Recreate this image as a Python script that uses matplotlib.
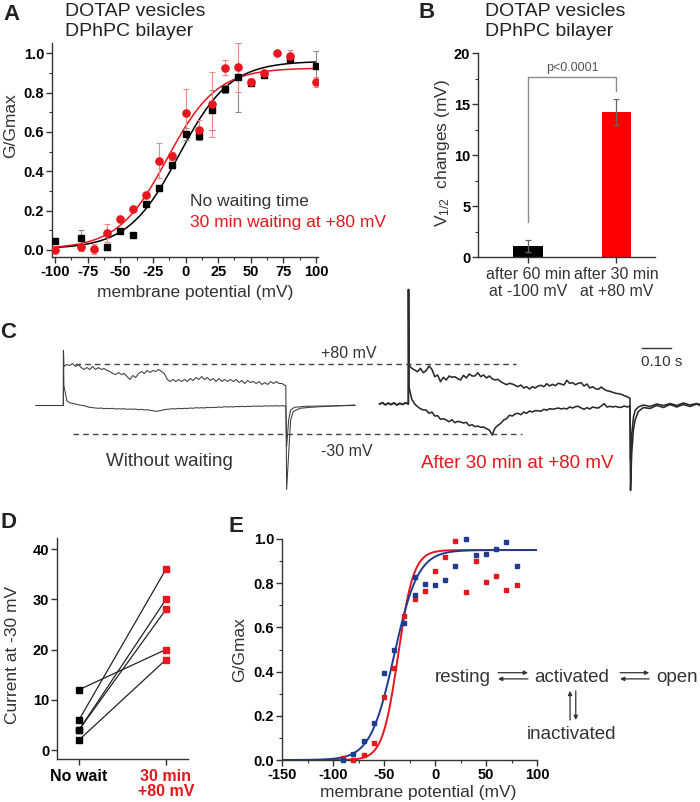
import numpy as np
import matplotlib
matplotlib.use('Agg')
import matplotlib.pyplot as plt
from matplotlib.ticker import MultipleLocator

plt.rcParams['font.family'] = ['Liberation Sans', 'DejaVu Sans']
plt.rcParams['mathtext.default'] = 'regular'

W, H = 700, 802
RED = '#e8161d'
BLUE = '#1f3c8f'
DARK = '#333333'

# ---- A: G/Gmax vs potential
volt_black = [-100, -80, -60, -50, -40, -30, -20, -10, 0, 10, 20, 30, 40, 50, 60, 80, 100]
g_black = [0.047, 0.063, 0.015, 0.098, 0.075, 0.232, 0.317, 0.432, 0.588, 0.581,
           0.712, 0.819, 0.878, 0.851, 0.888, 0.973, 0.937]
err_black = [0, 0.04, 0, 0, 0, 0.01, 0.015, 0.015, 0.03, 0.02, 0.1, 0.02, 0.175,
             0.02, 0.01, 0.015, 0.075]
volt_red = [-100, -80, -70, -60, -50, -40, -30, -20, -10, 0, 10, 20, 30, 40, 50, 60, 70, 80, 100]
g_red = [0.002, 0.014, 0.005, 0.085, 0.159, 0.21, 0.278, 0.454, 0.478, 0.698, 0.612,
         0.741, 0.927, 0.929, 0.856, 0.902, 1.003, 0.986, 0.854]
err_red = [0.01, 0.02, 0.025, 0.045, 0.01, 0.01, 0.01, 0.088, 0.02, 0.12, 0.05, 0.165,
           0.04, 0.125, 0.02, 0.01, 0.01, 0.03, 0.025]
# Boltzmann fits: (bottom, top, V1/2, slope)
fit_black = (0.005, 0.96, -5.0, 19.5)
fit_red = (0.005, 0.925, -14.0, 19.0)

# ---- B: V1/2 shift
b_labels = ['after 60 min\nat -100 mV', 'after 30 min\nat +80 mV']
b_values = [1.05, 14.2]
b_errors = [0.6, 1.3]
p_text = 'p<0.0001'

# ---- C: current traces (arbitrary units), step samples every 10 ms
step_t = np.arange(0, 780, 10)
left_upper = [39, 41, 40, 42, 39, 41, 38, 36, 38, 36, 39, 36, 38, 36, 37, 35, 34, 32, 31, 33,
              31, 32, 29, 26, 30, 28, 32, 34, 32, 35, 33, 35, 34, 36, 34, 32, 26, 24, 26, 24,
              26, 24, 26, 24, 27, 25, 28, 26, 29, 26, 28, 25, 27, 24, 27, 24, 26, 24, 26, 24,
              26, 23, 25, 22, 25, 23, 24, 22, 24, 21, 23, 21, 24, 22, 24, 22, 22, 20]
left_lower = [20, 4.8, 2.8, 2.2, 1.5, 0.8, 0.2, -0.2, -1.2, -1.8, -2.2, -2.5, -2.8, -2.5, -3.2,
              -2.8, -3.2, -2.8, -3.5, -3.2, -3.5, -3.2, -3.8, -3.5, -3.8, -3.5, -4.2, -3.8, -4.5,
              -4.2, -4.8, -5.2, -5.8, -5.5, -4.8, -4.2, -3.8, -3.5, -3.2, -3.5, -2.8, -3.2, -2.8,
              -3.0, -2.5, -2.8, -2.2, -2.5, -2.2, -2.5, -1.8, -2.2, -1.8, -2.0, -1.5, -1.8, -1.2,
              -1.5, -1.2, -1.5, -1.0, -1.2, -0.8, -1.2, -0.8, -1.0, -0.5, -0.8, -0.5, -0.8, -0.3,
              -0.6, -0.3, -0.5, -0.2, -0.5, -0.2, -0.5]
right_upper = [40.5, 37.2, 35.5, 33.8, 37.2, 32.8, 34.8, 39.5, 36.2, 28.8, 30.5, 23.8, 28.2, 25.5,
               29.5, 28.2, 28.8, 26.8, 25.5, 30.2, 27.5, 31.5, 29.5, 29.5, 32.8, 28.8, 30.5, 27.5,
               29.5, 26.8, 25.5, 26.2, 23.8, 22.2, 20.8, 22.2, 21.5, 20.2, 18.8, 20.5, 17.5, 18.8,
               16.5, 18.8, 17.5, 19.5, 20.2, 18.8, 21.8, 19.5, 21.2, 19.8, 22.2, 21.5, 20.5, 25.2,
               22.2, 22.8, 20.8, 22.2, 22.8, 19.5, 21.5, 17.5, 18.8, 16.8, 16.2, 18.5, 16.2, 14.8,
               14.2, 13.2, 12.2, 11.8, 11.2, 9.8, 8.8, 7.2]
right_lower = [18.8, 6.2, 1.5, -1.2, -3.2, -4.5, -4.5, -7.8, -6.5, -10.5, -10.2, -13.8, -13.2,
               -14.5, -16.2, -14.2, -17.2, -15.8, -16.5, -17.5, -16.8, -20.2, -19.2, -21.2, -20.5,
               -21.8, -21.5, -23.2, -24.5, -29.5, -22.5, -19.8, -17.8, -14.5, -13.2, -9.8, -10.5,
               -8.5, -7.8, -9.2, -6.5, -7.8, -5.5, -6.5, -5.2, -5.2, -5.8, -3.8, -4.8, -3.2, -3.8,
               -3.2, -2.5, -3.5, -2.8, -3.5, -1.5, -2.5, -1.2, -0.8, -2.5, -3.8, -2.2, -3.5, -1.5,
               -2.2, -2.5, -0.5, 1.8, -1.5, -0.8, -1.5, -0.8, -1.8, -1.8, -0.5, -1.5, -0.5]
left_base_t = [-95, -50, 0]
left_base = [0, 0, 0]
right_base_t = [-100, -90, -80, -70, -60, -50, -40, -30, -20, -10, 0]
right_base = [1.5, 2.8, 0.6, 2.4, 0.9, 2.6, 0.5, 2.2, 1.0, 2.7, 1.5]
left_spike, right_spike = 55, 116
left_tail_up_t = [775, 778, 785, 792, 801, 825, 860, 941, 1016]
left_tail_up = [20, -84, -48, -14.5, -6, -2.8, -1.8, -0.5, 0.5]
left_tail_lo_t = [775, 778, 785, 792, 805, 845, 1016]
left_tail_lo = [-0.5, -41, -14.5, -4.5, -1.8, -0.8, 0]
right_tail_up_t = [772, 774, 778, 784, 790, 801, 819, 842, 865, 889, 912, 935, 958, 981, 1004, 1016]
right_tail_up = [7, -85, -48, -24.5, -14.5, -6, -2, -3, 0, -2, 1, -1.5, 1, -1, 1.5, 0]
right_tail_lo_t = [772, 774, 778, 784, 790, 801, 819, 842, 865, 889, 912, 935, 958, 981, 1004, 1016]
right_tail_lo = [-0.5, -55, -30, -12, -5, -1.5, 0.5, -1, 1.5, 0, 2, 0, 2.5, 0.5, 2, 1]
level_80, level_30 = 41.5, -28.5

# ---- D: paired currents
d_before = [12, 6, 4, 4, 2]
d_after = [20, 36, 30, 28, 18]

# ---- E: G/Gmax
volt_e_blue = [-90, -80, -70, -60, -50, -40, -30, -20, -20, -10, 0, 10, 20, 30, 40, 50, 60, 70, 80]
g_e_blue = [0.0, 0.027, 0.088, 0.167, 0.394, 0.5, 0.62, 0.828, 0.745, 0.798, 0.79, 0.816,
            0.878, 1.0, 0.929, 0.932, 0.953, 0.988, 0.879]
volt_e_red = [-90, -80, -70, -60, -50, -40, -30, -20, -10, 0, 10, 20, 30, 40, 50, 60, 70, 80]
g_e_red = [0.01, 0.0, 0.023, 0.075, 0.287, 0.415, 0.652, 0.727, 0.763, 0.855, 0.92, 0.992,
           0.76, 0.9, 0.805, 0.834, 0.768, 0.792]
fit_e_blue = (0.0, 0.95, -40.0, 11.7)
fit_e_red = (0.0, 0.95, -36.2, 7.6)


def boltzmann(v, p):
    a1, a2, v0, k = p
    return a2 + (a1 - a2) / (1 + np.exp((v - v0) / k))


fig = plt.figure(figsize=(W / 100, H / 100), dpi=100)


def px_axes(left, top, right, bottom):
    return fig.add_axes([left / W, 1 - bottom / H, (right - left) / W, (bottom - top) / H])


def px_text(x, y, s, **kw):
    kw.setdefault('ha', 'center')
    kw.setdefault('va', 'center')
    fig.text(x / W, 1 - y / H, s, **kw)


def style(ax):
    for s in ['top', 'right']:
        ax.spines[s].set_visible(False)
    for s in ['left', 'bottom']:
        ax.spines[s].set_linewidth(1.0)
        ax.spines[s].set_color(DARK)
    ax.tick_params(which='major', direction='out', length=4, width=1, color=DARK, pad=1.5)
    ax.tick_params(which='minor', direction='out', length=2.5, width=0.8, color=DARK)


def bold_ticks(ax, xt, xl, yt, yl, size=10.5):
    ax.set_xticks(xt, labels=xl, fontweight='bold', fontsize=size)
    ax.set_yticks(yt, labels=yl, fontweight='bold', fontsize=size)


# ================= Panel A =================
axA = px_axes(52, 43, 318, 257)
style(axA)
vv = np.linspace(-100, 100, 300)
axA.plot(vv, boltzmann(vv, fit_black), color='black', lw=1.1)
axA.plot(vv, boltzmann(vv, fit_red), color=RED, lw=1.1)
axA.errorbar(volt_black, g_black, yerr=err_black, fmt='none', ecolor='#8a8a8a',
             elinewidth=0.8, capsize=2, capthick=0.8)
axA.errorbar(volt_red, g_red, yerr=err_red, fmt='none', ecolor='#f08a8a',
             elinewidth=0.8, capsize=2, capthick=0.8)
axA.plot(volt_black, g_black, 's', color='black', ms=4.2, zorder=4)
axA.plot(volt_red, g_red, 'o', color=RED, ms=5.2, zorder=5)
axA.set_xlim(-102.3, 101.5)
axA.set_ylim(-0.036, 1.052)
bold_ticks(axA, [-100, -75, -50, -25, 0, 25, 50, 75, 100],
           ['-100', '-75', '-50', '-25', '0', '25', '50', '75', '100'],
           [0, 0.2, 0.4, 0.6, 0.8, 1.0], ['0.0', '0.2', '0.4', '0.6', '0.8', '1.0'])
axA.xaxis.set_minor_locator(MultipleLocator(12.5))
axA.yaxis.set_minor_locator(MultipleLocator(0.1))
axA.text(3.4, 0.245, 'No waiting time', fontsize=12.5, color=DARK, va='center')
axA.text(3.4, 0.14, '30 min waiting at +80 mV', fontsize=12.5, color=RED, va='center')

px_text(12, 14, 'A', fontsize=16, fontweight='bold', color='#222222')
px_text(65, 11, 'DOTAP vesicles', fontsize=14, color='#222222', ha='left')
px_text(65, 31, 'DPhPC bilayer', fontsize=14, color='#222222', ha='left')
px_text(11, 126, 'G/Gmax', fontsize=12.5, color=DARK, rotation=90)
px_text(195, 292, 'membrane potential (mV)', fontsize=12.5, color=DARK)

# ================= Panel B =================
axB = px_axes(478, 53, 655, 257)
style(axB)
bx = [0, 1]
axB.bar(bx, b_values, width=0.33, color=['black', '#ff0000'])
axB.errorbar(bx, b_values, yerr=b_errors, fmt='none', ecolor='#666666',
             elinewidth=0.9, capsize=2.5, capthick=0.9)
axB.plot([0, 0, 1, 1], [3.4, 17.6, 17.6, 16.3], color='#8c8c8c', lw=1)
axB.text(0.5, 17.9, p_text, fontsize=9, color='#555555', ha='center', va='bottom')
axB.set_xlim(-0.564, 1.436)
axB.set_ylim(0, 20)
axB.set_yticks([0, 5, 10, 15, 20], labels=['0', '5', '10', '15', '20'],
               fontweight='bold', fontsize=10.5)
axB.set_xticks(bx, labels=b_labels, fontsize=11.5, color=DARK, linespacing=1.1)
axB.tick_params(axis='x', pad=3.5)
axB.yaxis.set_minor_locator(MultipleLocator(2.5))

px_text(427, 12, 'B', fontsize=16, fontweight='bold', color='#222222')
px_text(485, 11, 'DOTAP vesicles', fontsize=14, color='#222222', ha='left')
px_text(485, 31, 'DPhPC bilayer', fontsize=14, color='#222222', ha='left')
px_text(443, 153, 'V$_{1/2}$  changes (mV)', fontsize=12.5, color=DARK, rotation=90)

# ================= Panel C =================
axC = px_axes(0, 280, 700, 500)
axC.axis('off')
axC.set_xlim(-220.6, 2218)
axC.set_ylim(-94.5, 125.5)
right_off = 1202
trace_kw = dict(color='#3c3c3c', lw=0.75)

lu_t = left_base_t + [0.5] + list(step_t + 2) + left_tail_up_t
lu_i = left_base + [left_spike] + left_upper + left_tail_up
ll_t = left_base_t + [0.5] + list(step_t + 2) + left_tail_lo_t
ll_i = left_base + [left_spike] + left_lower + left_tail_lo
axC.plot(lu_t, lu_i, **trace_kw)
axC.plot(ll_t, ll_i, **trace_kw)

ru_t = right_base_t + [0.5] + list(step_t + 2) + right_tail_up_t
ru_i = right_base + [right_spike] + right_upper + right_tail_up
rl_t = right_base_t + [0.5] + list(step_t + 2) + right_tail_lo_t
rl_i = right_base + [right_spike] + right_lower + right_tail_lo
axC.plot(np.array(ru_t) + right_off, ru_i, color='#2a2a2a', lw=1.15)
axC.plot(np.array(rl_t) + right_off, rl_i, color='#2a2a2a', lw=1.15)

axC.plot([41, 1577], [level_80, level_80], color='#444444', lw=1, dashes=(4, 3))
axC.plot([34, 1598], [level_30, level_30], color='#444444', lw=1, dashes=(4, 3))
axC.text(995, 52.5, '+80 mV', fontsize=11.5, color=DARK, ha='center', va='center')
axC.text(988, -46.5, '-30 mV', fontsize=11.5, color=DARK, ha='center', va='center')
axC.text(368, -55.5, 'Without waiting', fontsize=13.5, color=DARK, ha='center', va='center')
axC.text(1581, -58.5, 'After 30 min at +80 mV', fontsize=13.5, color=RED,
         ha='center', va='center')
axC.plot([2016, 2116], [57.8, 57.8], color=DARK, lw=1)
axC.text(2013, 43.5, '0.10 s', fontsize=11, color=DARK, ha='left', va='center')
px_text(8, 333, 'C', fontsize=16, fontweight='bold', color='#222222')

# ================= Panel D =================
axD = px_axes(57, 538, 188, 759)
style(axD)
for b, a in zip(d_before, d_after):
    axD.plot([0, 1], [b, a], color='#222222', lw=0.9)
axD.plot([0] * len(d_before), d_before, 's', color='black', ms=3.8, zorder=4)
axD.plot([1] * len(d_after), d_after, 's', color=RED, ms=3.8, zorder=4)
axD.set_xlim(-0.253, 1.253)
axD.set_ylim(-1.79, 42.2)
bold_ticks(axD, [0, 1], ['No wait', '30 min\n+80 mV'],
           [0, 10, 20, 30, 40], ['0', '10', '20', '30', '40'])
for lab in axD.get_xticklabels():
    lab.set_fontsize(11.5)
    lab.set_linespacing(1.0)
axD.get_xticklabels()[1].set_color(RED)
axD.tick_params(axis='x', pad=3)
px_text(8, 523, 'D', fontsize=16, fontweight='bold', color='#222222')
px_text(13, 655, 'Current at -30 mV', fontsize=12.5, color=DARK, rotation=90)

# ================= Panel E =================
axE = px_axes(282, 539, 537, 760)
style(axE)
ve = np.linspace(-150, 100, 400)
axE.plot(ve, boltzmann(ve, fit_e_red), color=RED, lw=1.4)
axE.plot(ve, boltzmann(ve, fit_e_blue), color=BLUE, lw=1.4)
axE.plot(volt_e_red, g_e_red, 's', color=RED, ms=3.3, clip_on=False, zorder=4)
axE.plot(volt_e_blue, g_e_blue, 's', color=BLUE, ms=3.3, clip_on=False, zorder=4)
axE.set_xlim(-150, 100)
axE.set_ylim(0, 1.0)
bold_ticks(axE, [-150, -100, -50, 0, 50, 100], ['-150', '-100', '-50', '0', '50', '100'],
           [0, 0.2, 0.4, 0.6, 0.8, 1.0], ['0.0', '0.2', '0.4', '0.6', '0.8', '1.0'])
axE.xaxis.set_minor_locator(MultipleLocator(25))
axE.yaxis.set_minor_locator(MultipleLocator(0.1))

scheme_kw = dict(fontsize=13.5, color=DARK, va='baseline')
axE.text(27.5, 0.354, 'resting', ha='center', **scheme_kw)
axE.text(134, 0.354, 'activated', ha='center', **scheme_kw)
axE.text(216.5, 0.354, 'open', ha='left', **scheme_kw)
axE.text(134, 0.095, 'inactivated', ha='center', **scheme_kw)
arrow_kw = dict(arrowstyle='-|>', lw=0.9, color=DARK, mutation_scale=6, shrinkA=0, shrinkB=0)
for tail, tip in [((61.8, 0.395), (91.2, 0.395)), ((91.2, 0.367), (61.8, 0.367)),
                  ((181.4, 0.395), (210, 0.395)), ((210, 0.367), (181.4, 0.367)),
                  ((132.4, 0.181), (132.4, 0.313)), ((138, 0.313), (138, 0.181))]:
    axE.annotate('', xy=tip, xytext=tail, arrowprops=arrow_kw, annotation_clip=False)

px_text(236, 527, 'E', fontsize=16, fontweight='bold', color='#222222')
px_text(240, 650, 'G/Gmax', fontsize=12.5, color=DARK, rotation=90)
px_text(418, 792, 'membrane potential (mV)', fontsize=12.5, color=DARK)

fig.savefig('out.png', dpi=100)
